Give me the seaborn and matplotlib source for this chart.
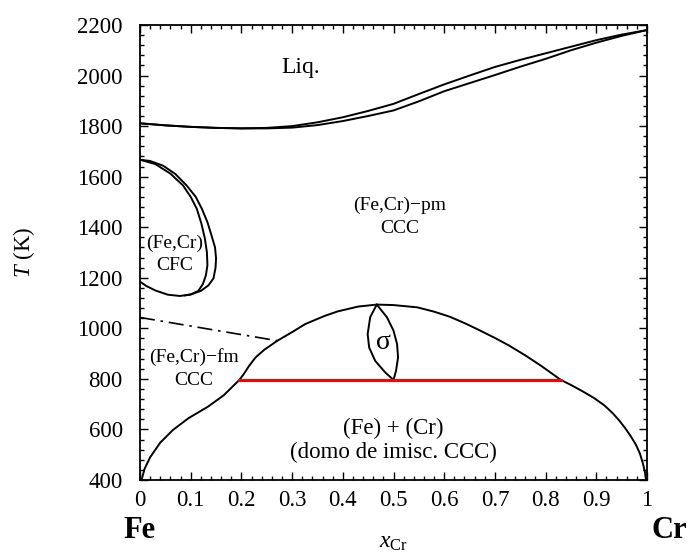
import matplotlib
matplotlib.use("Agg")
import matplotlib.pyplot as plt
import seaborn as sns
import pandas as pd
from matplotlib.ticker import MultipleLocator

# ---- phase boundaries of the Fe-Cr system (x_Cr, T in K) ----
liq_x = [0, 0.05, 0.1, 0.15, 0.2, 0.25, 0.3, 0.35, 0.4, 0.45, 0.5, 0.55, 0.6,
         0.65, 0.7, 0.75, 0.8, 0.85, 0.9, 0.95, 1.0]
liq_T = [1811, 1803, 1797, 1793, 1791, 1793, 1800, 1815, 1835, 1860, 1888, 1927,
         1965, 2000, 2034, 2062, 2088, 2114, 2140, 2162, 2180]
sol_T = [1811, 1803, 1797, 1793, 1791, 1791, 1794, 1804, 1820, 1840, 1862, 1898,
         1938, 1970, 2002, 2035, 2066, 2100, 2130, 2157, 2180]

# gamma loop: (a+g)/a boundary, continuing into the shared lower branch
gout_x = [0, 0.02, 0.046, 0.07, 0.092, 0.11, 0.122, 0.133, 0.141, 0.148, 0.150,
          0.149, 0.145, 0.135, 0.12, 0.1, 0.079, 0.055, 0.03, 0.012, 0]
gout_T = [1667, 1662, 1643, 1610, 1565, 1520, 1473, 1420, 1368, 1320, 1277,
          1240, 1198, 1170, 1148, 1134, 1128, 1133, 1150, 1168, 1185]
# gamma loop: g/(a+g) boundary
gin_x = [0, 0.03, 0.06, 0.085, 0.1, 0.112, 0.121, 0.128, 0.132, 0.133, 0.13,
         0.124, 0.115, 0.1, 0.088]
gin_T = [1667, 1650, 1612, 1565, 1520, 1473, 1415, 1355, 1300, 1250, 1210,
         1175, 1148, 1134, 1130]

# Curie line (ferro / para)
mag_x = [0, 0.271]
mag_T = [1043, 951]

# bcc miscibility gap and sigma field envelope
dome_x = [0.003, 0.009, 0.02, 0.04, 0.065, 0.096, 0.134, 0.165, 0.196,
          0.205, 0.215, 0.228, 0.245, 0.271, 0.3, 0.326, 0.364, 0.39, 0.43, 0.467,
          0.5, 0.547, 0.58, 0.611, 0.643, 0.666, 0.7, 0.727, 0.76, 0.791, 0.83,
          0.85, 0.872, 0.895, 0.916, 0.932, 0.945, 0.957, 0.968, 0.978, 0.986,
          0.992, 0.996, 0.998]
dome_T = [400, 444, 490, 548, 598, 645, 690, 735, 796,
          820, 851, 885, 915, 951, 985, 1017, 1049, 1067, 1086, 1094,
          1092, 1083, 1066, 1046, 1018, 996, 962, 933, 893, 852, 796,
          776, 752, 725, 695, 665, 636, 605, 573, 540, 505,
          465, 430, 400]

# sigma phase lens
sig_x = [0.467, 0.454, 0.449, 0.452, 0.464, 0.484, 0.5,
         0.505, 0.509, 0.507, 0.5, 0.487, 0.467]
sig_T = [1094, 1044, 977, 924, 871, 825, 796,
         832, 885, 938, 991, 1044, 1094]

# eutectoid isotherm
eut_x = [0.196, 0.83]
eut_T = [796, 796]

sns.set_theme(style="ticks")
plt.rcParams["font.family"] = ["Liberation Serif", "DejaVu Serif"]
plt.rcParams["mathtext.fontset"] = "custom"
plt.rcParams["mathtext.rm"] = "Liberation Serif"
plt.rcParams["mathtext.it"] = "Liberation Serif:italic"
plt.rcParams["axes.edgecolor"] = "black"
plt.rcParams["text.color"] = "black"
plt.rcParams["xtick.color"] = "black"
plt.rcParams["ytick.color"] = "black"
plt.rcParams["axes.labelcolor"] = "black"

fig = plt.figure(figsize=(6.96, 5.56), dpi=100)
ax = fig.add_axes([140 / 696, 1 - 480 / 556, 507 / 696, 455 / 556])

lw = 1.4
curves = [
    (liq_x, liq_T), (liq_x, sol_T), (gout_x, gout_T), (gin_x, gin_T),
    (dome_x, dome_T), (sig_x, sig_T),
]
for cx, cy in curves:
    df = pd.DataFrame({"x": cx, "T": cy})
    sns.lineplot(data=df, x="x", y="T", sort=False, estimator=None,
                 color="black", lw=lw, ax=ax)

mag_df = pd.DataFrame({"x": mag_x, "T": mag_T})
sns.lineplot(data=mag_df, x="x", y="T", sort=False, estimator=None,
             color="black", lw=1.2, ax=ax, dashes=False)
ax.lines[-1].set_dashes([9, 3.5, 1.5, 3.5])

eut_df = pd.DataFrame({"x": eut_x, "T": eut_T})
sns.lineplot(data=eut_df, x="x", y="T", sort=False, estimator=None,
             color="#ff0000", lw=2.2, ax=ax)

ax.set_xlim(0, 1)
ax.set_ylim(400, 2200)
ax.xaxis.set_major_locator(MultipleLocator(0.1))
ax.xaxis.set_minor_locator(MultipleLocator(0.02))
ax.yaxis.set_major_locator(MultipleLocator(200))
ax.yaxis.set_minor_locator(MultipleLocator(40))
ax.set_xticks([i / 10 for i in range(11)])
ax.set_xticklabels(["0", "0.1", "0.2", "0.3", "0.4", "0.5", "0.6", "0.7",
                    "0.8", "0.9", "1"])
ax.tick_params(which="both", direction="in", top=True, right=True,
               labelsize=16.5, width=1.0)
ax.tick_params(which="major", length=6)
ax.tick_params(which="minor", length=3)
ax.tick_params(axis="y", pad=12.5)
ax.tick_params(axis="x", pad=7)
for s in ax.spines.values():
    s.set_linewidth(1.3)
    s.set_color("black")

ax.set_xlabel(r"$x_{\mathrm{Cr}}$", fontsize=17, labelpad=15)
ax.set_ylabel(r"$T$ (K)", fontsize=16.5, labelpad=29)

# phase-field labels
ax.text(0.316, 2030, "Liq.", fontsize=17, ha="center", va="center")
ax.text(0.513, 1486, "(Fe,Cr)\u2212pm", fontsize=14, ha="center", va="center")
ax.text(0.513, 1395, "CCC", fontsize=14, ha="center", va="center")
ax.text(0.069, 1336, "(Fe,Cr)", fontsize=14, ha="center", va="center")
ax.text(0.069, 1248, "CFC", fontsize=14, ha="center", va="center")
ax.text(0.107, 888, "(Fe,Cr)\u2212fm", fontsize=14, ha="center", va="center")
ax.text(0.107, 793, "CCC", fontsize=14, ha="center", va="center")
ax.text(0.48, 944, "\u03c3", fontsize=20, ha="center", va="center")
ax.text(0.5, 602, "(Fe) + (Cr)", fontsize=16.5, ha="center", va="center")
ax.text(0.5, 507, "(domo de imisc. CCC)", fontsize=16.5, ha="center", va="center")

# component names under the axis ends
fig.text(140 / 696, 1 - 530 / 556, "Fe", fontsize=22, fontweight="bold",
         ha="center", va="center")
fig.text(669 / 696, 1 - 530 / 556, "Cr", fontsize=22, fontweight="bold",
         ha="center", va="center")

fig.savefig("out.png", dpi=100)
